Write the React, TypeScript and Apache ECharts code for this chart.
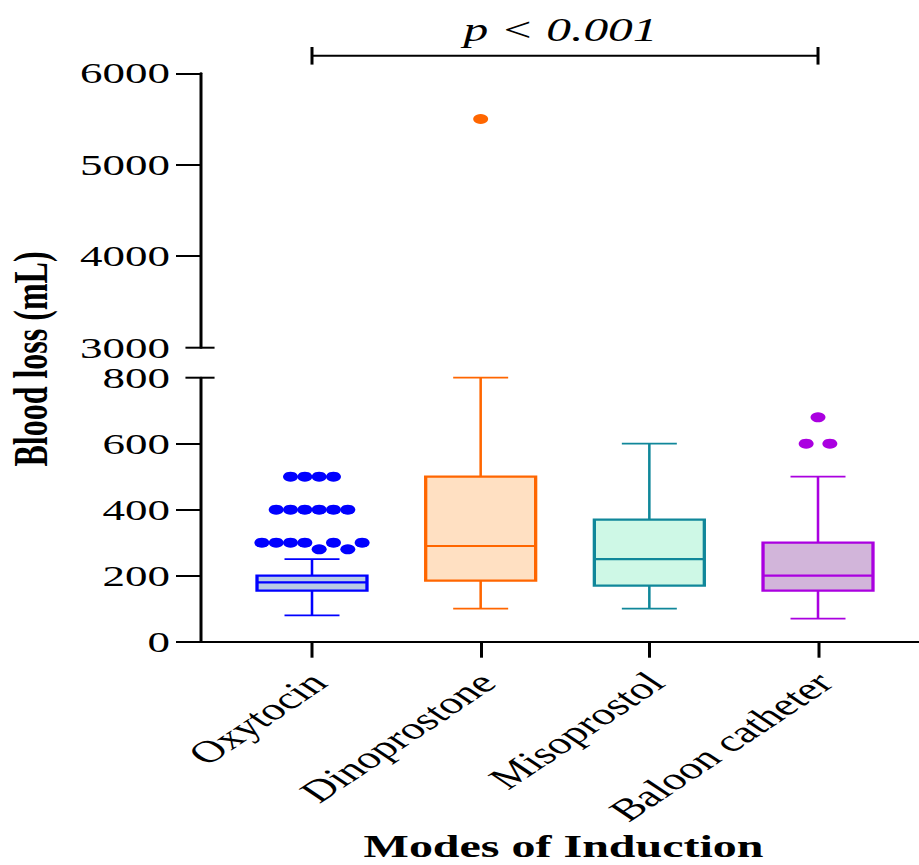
import React, { useEffect, useRef } from "react";
import * as echarts from "echarts";

// ---------- data ----------
const categories = ["Oxytocin", "Dinoprostone", "Misoprostol", "Baloon catheter"];
const whiskerLow = [80, 100, 100, 70];
const quartile1 = [155, 185, 170, 155];
const medians = [180, 290, 250, 200];
const quartile3 = [200, 500, 370, 300];
const whiskerHigh = [250, 800, 600, 500];
const oxytocinOutliers = [500, 500, 500, 500, 400, 400, 400, 400, 400, 400, 300, 300, 300, 300, 280, 300, 280, 300];
const dinoprostoneOutliers = [5500];
const misoprostolOutliers: number[] = [];
const balloonOutliers = [680, 600, 600];
const outlierGroups = [oxytocinOutliers, dinoprostoneOutliers, misoprostolOutliers, balloonOutliers];
const lowerTicks = [0, 200, 400, 600, 800];
const upperTicks = [3000, 4000, 5000, 6000];
const comparison = [0, 3];
const pValueText = "p < 0.001";
const yTitle = "Blood loss (mL)";
const xTitle = "Modes of Induction";

// ---------- styles / layout ----------
const SX = 1.5; // the reference is stretched horizontally
const PAGE_W = 919;
const PAGE_H = 865;
const W = PAGE_W / SX;
const AXIS_X = 200 / SX;
const FIRST_CAT = 312 / SX;
const UNIT = 168.67 / SX;
const XMIN = (AXIS_X - FIRST_CAT) / UNIT;
const XMAX = (W - FIRST_CAT) / UNIT;
const FONT = '"Liberation Serif", "Times New Roman", serif';

const groupStyles = [
  { stroke: "#0000FF", fill: "#B9CCE5", dot: "#0000FF", dodgePx: 9.55 },
  { stroke: "#FF6600", fill: "#FFE0C2", dot: "#FF6600", dodgePx: 9.55 },
  { stroke: "#10879A", fill: "#CEF8E6", dot: "#10879A", dodgePx: 9.55 },
  { stroke: "#AA00E0", fill: "#D2B5DA", dot: "#AA00E0", dodgePx: 15.8 },
];

function dodgeSlots(values: number[], tol: number): number[] {
  const slots: number[] = [];
  let start = 0;
  for (let i = 1; i <= values.length; i++) {
    if (i === values.length || Math.abs(values[i] - values[i - 1]) > tol) {
      const n = i - start;
      for (let k = 0; k < n; k++) slots.push(k - (n - 1) / 2);
      start = i;
    }
  }
  return slots;
}

function buildOption() {
  const lowerMax = lowerTicks[lowerTicks.length - 1];
  const upperMin = upperTicks[0];
  const upperMax = upperTicks[upperTicks.length - 1];

  const boxData = categories.map((_, i) => [
    i,
    whiskerLow[i],
    quartile1[i],
    medians[i],
    quartile3[i],
    whiskerHigh[i],
  ]);

  const scatterSeries: any[] = [];
  outlierGroups.forEach((vals, gi) => {
    if (!vals.length) return;
    const slots = dodgeSlots(vals, 40);
    const lower: number[][] = [];
    const upper: number[][] = [];
    vals.forEach((v, k) => {
      const x = gi + (slots[k] * groupStyles[gi].dodgePx) / UNIT;
      if (v <= lowerMax) lower.push([x, v]);
      else upper.push([x, v]);
    });
    const base = {
      type: "scatter",
      symbol: "circle",
      symbolSize: 10,
      itemStyle: { color: groupStyles[gi].dot, opacity: 1 },
      silent: true,
      z: 5,
    };
    if (lower.length) scatterSeries.push({ ...base, name: categories[gi], xAxisIndex: 0, yAxisIndex: 0, data: lower });
    if (upper.length) scatterSeries.push({ ...base, name: categories[gi], xAxisIndex: 1, yAxisIndex: 1, data: upper });
  });

  const axisLineStyle = { color: "#000", width: 2 };
  const plain = (v: number) => String(v);

  return {
    animation: false,
    backgroundColor: "#fff",
    grid: [
      { left: AXIS_X, right: 0, top: 377.7, height: 264 },
      { left: AXIS_X, right: 0, top: 73.3, height: 274.4 },
    ],
    xAxis: [
      {
        type: "value",
        gridIndex: 0,
        min: XMIN,
        max: XMAX,
        axisLine: { show: true, onZero: false, lineStyle: axisLineStyle },
        axisTick: { show: true, length: 16, lineStyle: axisLineStyle, customValues: categories.map((_, i) => i) },
        axisLabel: {
          customValues: categories.map((_, i) => i + 0.04),
          formatter: (v: number) => categories[Math.round(v)] ?? "",
          rotate: 45,
          margin: 36,
          fontFamily: FONT,
          fontSize: 31,
          color: "#000",
        },
        splitLine: { show: false },
      },
      {
        type: "value",
        gridIndex: 1,
        min: XMIN,
        max: XMAX,
        show: false,
        axisLine: { onZero: false },
      },
    ],
    yAxis: [
      {
        type: "value",
        gridIndex: 0,
        min: lowerTicks[0],
        max: lowerMax,
        interval: lowerTicks[1] - lowerTicks[0],
        axisLine: { show: true, onZero: false, lineStyle: axisLineStyle },
        axisTick: { show: true, length: 16, lineStyle: axisLineStyle, customValues: lowerTicks.slice(0, -1) },
        axisLabel: { fontFamily: FONT, fontSize: 30, color: "#000", margin: 20, customValues: lowerTicks, formatter: plain },
        splitLine: { show: false },
      },
      {
        type: "value",
        gridIndex: 1,
        min: upperMin,
        max: upperMax,
        interval: upperTicks[1] - upperTicks[0],
        axisLine: { show: true, onZero: false, lineStyle: axisLineStyle },
        axisTick: { show: true, length: 16, lineStyle: axisLineStyle, customValues: upperTicks.slice(1) },
        axisLabel: { fontFamily: FONT, fontSize: 30, color: "#000", margin: 20, customValues: upperTicks, formatter: plain },
        splitLine: { show: false },
      },
    ],
    graphic: [
      {
        type: "text",
        x: 21,
        y: 359,
        rotation: Math.PI / 2,
        style: {
          text: yTitle,
          font: `bold 32px ${FONT}`,
          align: "center",
          verticalAlign: "middle",
          fill: "#000",
        },
      },
      {
        type: "text",
        x: 375.7,
        y: 846,
        style: {
          text: xTitle,
          font: `bold 32px ${FONT}`,
          lineHeight: 28,
          align: "center",
          verticalAlign: "middle",
          fill: "#000",
        },
      },
    ],
    series: [
      {
        type: "custom",
        name: "boxes",
        xAxisIndex: 0,
        yAxisIndex: 0,
        clip: false,
        silent: true,
        z: 3,
        data: boxData,
        renderItem: (params: any, api: any) => {
          const i = api.value(0);
          const cx = api.coord([i, api.value(3)])[0];
          const yLo = api.coord([i, api.value(1)])[1];
          const yQ1 = api.coord([i, api.value(2)])[1];
          const yMed = api.coord([i, api.value(3)])[1];
          const yQ3 = api.coord([i, api.value(4)])[1];
          const yHi = api.coord([i, api.value(5)])[1];
          const unit = api.size([1, 0])[0];
          const bw = unit * 0.652;
          const cw = unit * 0.326;
          const s = groupStyles[params.dataIndex];
          const ws = { stroke: s.stroke, lineWidth: 1.7 };
          return {
            type: "group",
            children: [
              { type: "line", shape: { x1: cx, y1: yQ3, x2: cx, y2: yHi }, style: ws },
              { type: "line", shape: { x1: cx - cw / 2, y1: yHi, x2: cx + cw / 2, y2: yHi }, style: ws },
              { type: "line", shape: { x1: cx, y1: yQ1, x2: cx, y2: yLo }, style: ws },
              { type: "line", shape: { x1: cx - cw / 2, y1: yLo, x2: cx + cw / 2, y2: yLo }, style: ws },
              {
                type: "rect",
                shape: { x: cx - bw / 2, y: yQ3, width: bw, height: yQ1 - yQ3 },
                style: { fill: s.fill, stroke: s.stroke, lineWidth: 2.2 },
              },
              {
                type: "line",
                shape: { x1: cx - bw / 2, y1: yMed, x2: cx + bw / 2, y2: yMed },
                style: { stroke: s.stroke, lineWidth: 2.2 },
              },
            ],
          };
        },
      },
      {
        type: "custom",
        name: "break-lower",
        xAxisIndex: 0,
        yAxisIndex: 0,
        clip: false,
        silent: true,
        data: [[XMIN, lowerMax]],
        renderItem: (_p: any, api: any) => {
          const c = api.coord([api.value(0), api.value(1)]);
          return {
            type: "line",
            shape: { x1: c[0] - 9.7, y1: c[1], x2: c[0] + 9.7, y2: c[1] },
            style: { stroke: "#000", lineWidth: 2 },
          };
        },
      },
      {
        type: "custom",
        name: "break-upper",
        xAxisIndex: 1,
        yAxisIndex: 1,
        clip: false,
        silent: true,
        data: [[XMIN, upperMin]],
        renderItem: (_p: any, api: any) => {
          const c = api.coord([api.value(0), api.value(1)]);
          return {
            type: "line",
            shape: { x1: c[0] - 9.7, y1: c[1], x2: c[0] + 9.7, y2: c[1] },
            style: { stroke: "#000", lineWidth: 2 },
          };
        },
      },
      {
        type: "custom",
        name: "bracket",
        xAxisIndex: 1,
        yAxisIndex: 1,
        clip: false,
        silent: true,
        data: [comparison],
        renderItem: (_p: any, api: any) => {
          const a = api.coord([api.value(0), upperMax]);
          const b = api.coord([api.value(1), upperMax]);
          const y = a[1] - 17.5;
          const st = { stroke: "#000", lineWidth: 2 };
          return {
            type: "group",
            children: [
              { type: "line", shape: { x1: a[0], y1: y, x2: b[0], y2: y }, style: st },
              { type: "line", shape: { x1: a[0], y1: y - 8.8, x2: a[0], y2: y + 8.8 }, style: st },
              { type: "line", shape: { x1: b[0], y1: y - 8.8, x2: b[0], y2: y + 8.8 }, style: st },
              {
                type: "text",
                x: (a[0] + b[0]) / 2 - 3,
                y: y - 25.5,
                style: {
                  text: pValueText,
                  font: `italic 33px ${FONT}`,
                  align: "center",
                  verticalAlign: "middle",
                  fill: "#000",
                },
              },
            ],
          };
        },
      },
      ...scatterSeries,
    ],
  };
}

export default function App() {
  const ref = useRef<HTMLDivElement>(null);
  useEffect(() => {
    if (!ref.current) return;
    const chart = echarts.init(ref.current, undefined, { renderer: "svg", width: W, height: PAGE_H });
    chart.setOption(buildOption() as any);
    return () => chart.dispose();
  }, []);
  return (
    <div
      style={{
        position: "fixed",
        left: 0,
        top: 0,
        width: PAGE_W,
        height: PAGE_H,
        overflow: "hidden",
        background: "#fff",
      }}
    >
      <div
        ref={ref}
        style={{ width: W, height: PAGE_H, transform: `scaleX(${SX})`, transformOrigin: "0 0" }}
      />
    </div>
  );
}
